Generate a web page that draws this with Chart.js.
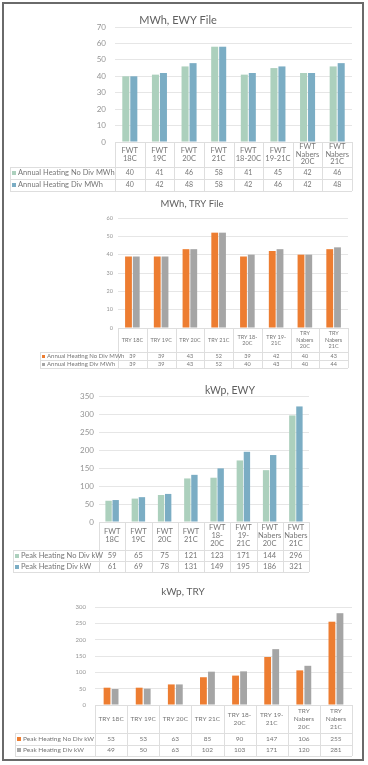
<!DOCTYPE html>
<html>
<head>
<meta charset="utf-8">
<script src="https://cdn.jsdelivr.net/npm/chart.js@4"></script>
<style>
  html, body { margin: 0; padding: 0; background: #fff; }
  #page { position: relative; width: 368px; height: 765px; overflow: hidden; }
  #frame { position: absolute; left: 2px; top: 2px; width: 362px; height: 759px;
           box-sizing: border-box; border: 2px solid #6a6a6a; }
  canvas { position: absolute; left: 0; }
</style>
</head>
<body>
<div id="page">
  <div id="frame"></div>
  <canvas id="mwh-ewy" width="368" height="188" style="top:8px"></canvas>
  <canvas id="mwh-try" width="368" height="178" style="top:196px"></canvas>
  <canvas id="kwp-ewy" width="368" height="200" style="top:378px"></canvas>
  <canvas id="kwp-try" width="368" height="178" style="top:582px"></canvas>
</div>
<script>
// categorias
const ewyMwhCategories = [['FWT','18C'], ['FWT','19C'], ['FWT','20C'], ['FWT','21C'],
                          ['FWT','18-20C'], ['FWT','19-21C'], ['FWT','Nabers','20C'], ['FWT','Nabers','21C']];
const ewyKwpCategories = [['FWT','18C'], ['FWT','19C'], ['FWT','20C'], ['FWT','21C'],
                          ['FWT','18-','20C'], ['FWT','19-','21C'], ['FWT','Nabers','20C'], ['FWT','Nabers','21C']];
const tryCategories = [['TRY 18C'], ['TRY 19C'], ['TRY 20C'], ['TRY 21C'],
                       ['TRY 18-','20C'], ['TRY 19-','21C'], ['TRY','Nabers','20C'], ['TRY','Nabers','21C']];

// series
const mwhEwyNoDiv = [40, 41, 46, 58, 41, 45, 42, 46];
const mwhEwyDiv   = [40, 42, 48, 58, 42, 46, 42, 48];
const mwhTryNoDiv = [39, 39, 43, 52, 39, 42, 40, 43];
const mwhTryDiv   = [39, 39, 43, 52, 40, 43, 40, 44];
const kwpEwyNoDiv = [59, 65, 75, 121, 123, 171, 144, 296];
const kwpEwyDiv   = [61, 69, 78, 131, 149, 195, 186, 321];
const kwpTryNoDiv = [53, 53, 63, 85, 90, 147, 106, 255];
const kwpTryDiv   = [49, 50, 63, 102, 103, 171, 120, 281];

const mwhNames = ['Annual Heating No Div MWh', 'Annual Heating Div MWh'];
const kwpNames = ['Peak Heating No Div kW', 'Peak Heating Div kW'];

const ewyColors = ['#acd0bd', '#7badc4'];
const tryColors = ['#ed7d31', '#a5a5a5'];

// tabla de datos debajo del grafico + titulo
const dataTablePlugin = {
    id: 'dataTable',
    afterDraw: function (chart, args, o) {
        const ctx = chart.ctx;
        const area = chart.chartArea;
        const xs = chart.scales.x;
        const n = chart.data.labels.length;
        const colW = (area.right - area.left) / n;
        const top = area.bottom;
        const headBottom = top + o.headerHeight;
        const rows = chart.data.datasets.length;
        const bottom = headBottom + rows * o.rowHeight;
        const px = function (v) { return Math.round(v) + 0.5; };

        ctx.save();
        ctx.strokeStyle = o.lineColor;
        ctx.lineWidth = 1;
        ctx.beginPath();
        ctx.moveTo(area.left, px(top)); ctx.lineTo(area.right, px(top));
        for (let r = 0; r <= rows; r++) {
            const y = px(headBottom + r * o.rowHeight);
            ctx.moveTo(o.legendLeft, y); ctx.lineTo(area.right, y);
        }
        for (let i = 0; i <= n; i++) {
            const xx = px(area.left + i * colW);
            ctx.moveTo(xx, top); ctx.lineTo(xx, bottom);
        }
        ctx.moveTo(px(o.legendLeft), headBottom); ctx.lineTo(px(o.legendLeft), bottom);
        ctx.stroke();

        ctx.fillStyle = o.textColor;
        ctx.textAlign = 'center';
        ctx.textBaseline = 'middle';
        ctx.font = o.headerSize + 'px ' + o.family;
        chart.data.labels.forEach(function (lab, i) {
            const lines = [].concat(lab);
            const cx = xs.getPixelForValue(i);
            const cy = top + o.headerHeight / 2;
            lines.forEach(function (t, k) {
                ctx.fillText(t, cx, cy + (k - (lines.length - 1) / 2) * o.lineHeight);
            });
        });

        chart.data.datasets.forEach(function (ds, r) {
            const cy = headBottom + r * o.rowHeight + o.rowHeight / 2;
            ctx.fillStyle = ds.backgroundColor;
            ctx.fillRect(o.legendLeft + 2, Math.round(cy - o.keySize / 2), o.keySize, o.keySize);
            ctx.fillStyle = o.textColor;
            ctx.textAlign = 'left';
            ctx.font = o.legendSize + 'px ' + o.family;
            ctx.fillText(ds.label, o.legendLeft + 4 + o.keySize, cy);
            ctx.textAlign = 'center';
            ctx.font = o.valueSize + 'px ' + o.family;
            ds.data.forEach(function (v, i) {
                ctx.fillText(String(Math.round(v)), xs.getPixelForValue(i), cy);
            });
        });

        ctx.fillStyle = o.titleColor;
        ctx.textAlign = 'center';
        ctx.font = o.titleSize + 'px ' + o.family;
        ctx.fillText(o.title, o.titleX, o.titleY);
        ctx.restore();
    }
};

function buildChart(id, cats, noDiv, div, names, colors, yMax, step, look) {
    return new Chart(document.getElementById(id), {
        type: 'bar',
        data: {
            labels: cats,
            datasets: [
                { label: names[0], data: noDiv, backgroundColor: colors[0],
                  categoryPercentage: look.catPct, barPercentage: look.barPct },
                { label: names[1], data: div, backgroundColor: colors[1],
                  categoryPercentage: look.catPct, barPercentage: look.barPct }
            ]
        },
        options: {
            responsive: false,
            animation: false,
            layout: { padding: look.padding },
            plugins: {
                legend: { display: false },
                tooltip: { enabled: false },
                title: { display: false },
                dataTable: look.table
            },
            scales: {
                x: { display: false },
                y: {
                    min: 0,
                    max: yMax,
                    ticks: { stepSize: step, padding: look.tickPad, color: '#959595',
                             font: { family: look.table.family, size: look.tickSize } },
                    grid: { color: '#e6e6e6', drawTicks: false },
                    border: { display: false },
                    afterFit: function (s) { s.width = 30; }
                }
            }
        },
        plugins: [dataTablePlugin]
    });
}

document.addEventListener('DOMContentLoaded', function () {

    buildChart('mwh-ewy', ewyMwhCategories, mwhEwyNoDiv, mwhEwyDiv, mwhNames, ewyColors, 70, 10, {
        padding: { left: 85, right: 16, top: 19, bottom: 54 },
        catPct: 0.54, barPct: 0.88, tickPad: 9, tickSize: 8,
        table: { family: 'Lato', title: 'MWh, EWY File', titleX: 178, titleY: 12, titleSize: 11,
                 titleColor: '#5f5f5f', textColor: '#767676', lineColor: '#dedede',
                 legendLeft: 10, headerHeight: 25, rowHeight: 12, lineHeight: 7.5,
                 headerSize: 7.5, legendSize: 7.5, valueSize: 7, keySize: 4 }
    });

    buildChart('mwh-try', tryCategories, mwhTryNoDiv, mwhTryDiv, mwhNames, tryColors, 60, 10, {
        padding: { left: 88, right: 20, top: 22, bottom: 46 },
        catPct: 0.54, barPct: 0.88, tickPad: 5, tickSize: 5.5,
        table: { family: 'Lato', title: 'MWh, TRY File', titleX: 192, titleY: 8, titleSize: 9.5,
                 titleColor: '#5f5f5f', textColor: '#767676', lineColor: '#dedede',
                 legendLeft: 40, headerHeight: 24, rowHeight: 8, lineHeight: 6.5,
                 headerSize: 5.5, legendSize: 6, valueSize: 5.5, keySize: 3 }
    });

    buildChart('kwp-ewy', ewyKwpCategories, kwpEwyNoDiv, kwpEwyDiv, kwpNames, ewyColors, 350, 50, {
        padding: { left: 69, right: 59, top: 18, bottom: 56 },
        catPct: 0.54, barPct: 0.9, tickPad: 5, tickSize: 8,
        table: { family: 'Lato', title: 'kWp, EWY', titleX: 230, titleY: 13, titleSize: 10.5,
                 titleColor: '#5f5f5f', textColor: '#767676', lineColor: '#dedede',
                 legendLeft: 13, headerHeight: 28, rowHeight: 11, lineHeight: 8,
                 headerSize: 7.5, legendSize: 7.5, valueSize: 7.5, keySize: 4 }
    });

    buildChart('kwp-try', tryCategories, kwpTryNoDiv, kwpTryDiv, kwpNames, tryColors, 300, 50, {
        padding: { left: 65, right: 16, top: 25, bottom: 55 },
        catPct: 0.5, barPct: 0.85, tickPad: 9, tickSize: 6,
        table: { family: 'Lato', title: 'kWp, TRY', titleX: 183, titleY: 10, titleSize: 10,
                 titleColor: '#5f5f5f', textColor: '#767676', lineColor: '#dedede',
                 legendLeft: 15, headerHeight: 28, rowHeight: 11.5, lineHeight: 8,
                 headerSize: 6.5, legendSize: 6.5, valueSize: 6.5, keySize: 4 }
    });
});
</script>
</body>
</html>
